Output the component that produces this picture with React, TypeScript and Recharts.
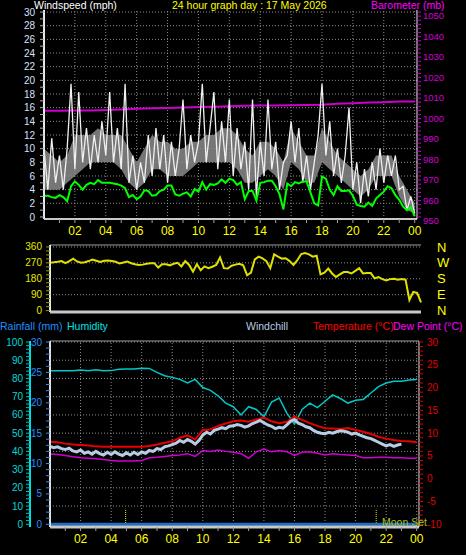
import { ComposedChart, LineChart, Line, Area, XAxis, YAxis, ReferenceLine } from 'recharts';

// time grid, 15 minute steps over the day
const HOURS = Array.from({ length: 97 }, (_, i) => i / 4);

// wind speed (mph), 15 min
const GUST = [10, 4, 11.5, 5, 9, 4, 10, 19.5, 7, 18.3, 8, 13, 7, 12, 8, 14, 9, 18.3, 8, 13, 7, 19.5, 5, 9, 4, 8, 5, 12, 6, 13, 7, 12, 5, 11, 6, 10, 17.2, 7, 12, 8, 11, 19.5, 8, 13, 18.3, 7, 14, 8, 17.2, 6, 13, 7, 11, 4, 17.2, 3, 11, 6, 17.2, 7, 11, 4, 8, 9, 14, 8, 13, 5, 9, 4, 8, 12, 19.5, 9, 14, 6, 10, 5, 9, 16, 4, 8, 2, 7, 3, 8, 4, 10, 5, 9, 6, 9, 4, 4.5, 1, 3, 0.5];
const AVG = [3.1, 3.1, 2.9, 2.8, 3.2, 2.9, 2.3, 4.5, 5.2, 4.7, 4.0, 4.7, 5.0, 4.8, 5.4, 5.0, 5.0, 5.0, 4.9, 4.8, 4.6, 4.2, 2.9, 3.2, 2.6, 3.0, 3.9, 3.8, 3.1, 3.2, 3.8, 4.0, 4.6, 4.6, 3.3, 3.1, 3.4, 3.6, 3.0, 4.1, 3.7, 5.1, 4.0, 4.8, 4.7, 4.9, 5.5, 5.0, 5.6, 5.4, 4.7, 5.1, 2.6, 3.8, 3.8, 2.4, 5.0, 5.1, 5.3, 5.3, 4.5, 3.3, 1.1, 4.9, 4.5, 5.1, 4.9, 5.2, 5.2, 3.6, 2.0, 1.7, 5.9, 5.6, 4.0, 3.2, 4.5, 3.8, 3.8, 3.9, 3.1, 1.8, 1.6, 1.5, 2.1, 1.6, 2.7, 3.2, 3.7, 4.5, 4.2, 3.2, 2.5, 1.5, 1.0, 1.4, 0.1];
// gust band, low and high (mph), 30 min
const GUST_LO = [4, 4, 4, 5, 6, 7, 8, 8, 8, 8, 7, 5, 4, 5, 7, 7, 6, 6, 6, 7, 8, 8, 8, 8, 8, 7, 5, 5, 6, 7, 6, 4, 8, 7, 5, 5, 8, 7, 6, 5, 4, 3, 4, 6, 6, 6, 3, 1, 0.5];
const GUST_HI = [10, 9, 8, 9, 12, 12, 12, 13, 12, 12, 12, 10, 8, 10, 12, 11, 11, 10, 10, 11, 11, 12, 12, 13, 13, 12, 10, 9, 11, 11, 10, 8, 13, 11, 9, 9, 13, 11, 9, 8, 7, 6, 7, 9, 9, 9, 6, 4, 2];
// barometer (mb), hourly
const BARO = [1001.8, 1001.8, 1001.9, 1001.9, 1002.2, 1002.5, 1002.8, 1003.0, 1003.2, 1003.4, 1003.6, 1003.8, 1004.0, 1004.3, 1004.4, 1004.4, 1004.5, 1004.6, 1004.8, 1005.2, 1005.5, 1005.8, 1006.0, 1006.3, 1006.4];
// wind direction (degrees), 15 min
const DIR = [271, 273, 276, 280, 268, 280, 294, 278, 271, 274, 280, 288, 282, 275, 282, 283, 280, 276, 266, 272, 278, 268, 262, 258, 260, 265, 268, 268, 243, 262, 262, 256, 265, 270, 250, 280, 258, 220, 262, 228, 250, 240, 248, 258, 300, 240, 238, 254, 260, 265, 256, 200, 215, 290, 305, 295, 280, 240, 318, 305, 294, 296, 280, 258, 285, 320, 326, 318, 305, 310, 205, 215, 238, 210, 190, 205, 218, 218, 210, 225, 240, 210, 212, 212, 182, 190, 178, 170, 178, 180, 175, 178, 175, 60, 105, 100, 47];
// humidity (%), temperature and dew point (C), 30 min
const HUM = [84.2, 84.2, 84.2, 84.2, 84.6, 84.2, 84.8, 84.2, 84.3, 85.0, 85.2, 85.2, 85.6, 85.5, 83.3, 81.5, 80.6, 79.5, 77.5, 79.5, 75.0, 73.5, 70.5, 66.5, 64.5, 60.0, 64.5, 63.0, 59.0, 67.0, 69.3, 61.0, 55.0, 63.0, 66.5, 64.0, 67.5, 71.0, 69.0, 66.5, 68.0, 68.5, 72.0, 75.5, 77.5, 78.5, 78.5, 79.2, 79.4];
const TEMP = [8.1, 8.0, 7.7, 7.5, 7.4, 7.3, 7.1, 7.0, 7.0, 7.0, 7.0, 7.0, 7.0, 7.2, 7.5, 7.9, 8.2, 9.0, 9.5, 8.6, 10.7, 10.8, 11.6, 12.1, 12.6, 12.8, 12.5, 13.0, 13.4, 12.6, 12.2, 12.5, 13.6, 12.9, 12.2, 11.6, 11.1, 11.0, 10.9, 11.1, 10.7, 10.3, 9.8, 9.2, 8.8, 8.5, 8.3, 8.2, 8.0];
const DEW = [5.4, 5.3, 5.1, 4.8, 4.6, 4.5, 4.4, 4.2, 4.0, 3.9, 3.9, 3.9, 4.0, 4.6, 4.7, 4.9, 5.1, 5.2, 5.5, 4.9, 6.2, 6.0, 6.3, 6.0, 5.8, 5.5, 4.5, 5.9, 6.5, 5.9, 6.2, 5.9, 5.1, 5.8, 5.9, 5.6, 5.2, 5.5, 5.3, 5.2, 5.1, 4.6, 4.6, 4.7, 4.7, 4.6, 4.6, 4.5, 4.5];
// windchill (C), 15 min, ends at 23:00
const CHILL = [7.1, 6.8, 7.0, 6.6, 6.4, 6.7, 6.1, 5.9, 6.3, 5.6, 5.9, 5.4, 6.0, 5.5, 5.2, 5.8, 5.3, 5.9, 5.4, 5.1, 5.7, 5.2, 5.8, 5.3, 5.9, 5.6, 6.2, 6.0, 6.6, 6.4, 7.0, 7.2, 7.5, 7.8, 8.4, 8.0, 8.6, 8.2, 7.6, 8.4, 9.6, 10.2, 9.8, 10.6, 10.9, 11.2, 11.0, 11.5, 11.6, 11.9, 11.7, 11.3, 11.6, 12.1, 12.4, 12.8, 12.3, 11.8, 11.5, 11.0, 11.3, 11.1, 11.8, 12.6, 13.0, 12.2, 11.9, 11.4, 11.2, 10.6, 10.2, 10.0, 9.9, 10.2, 10.0, 10.3, 10.5, 10.4, 10.2, 9.8, 10.0, 9.6, 9.3, 9.0, 8.8, 8.4, 8.0, 7.6, 7.2, 7.5, 7.1, 7.4, 7.6];
// rainfall (mm), hourly
const RAIN = [0, 0, 0, 0, 0, 0, 0, 0, 0, 0, 0, 0, 0, 0, 0, 0, 0, 0, 0, 0, 0, 0, 0, 0, 0];

// sunrise / moon set markers (hours)
const MARKS = [4.95, 21.35];

// ticks and grid
const HOUR_TICKS = Array.from({ length: 24 }, (_, i) => i + 1);
const GRID_HOURS = [2, 4, 6, 8, 10, 12, 14, 16, 18, 20, 22, 24];
const SPEED_TICKS = Array.from({ length: 31 }, (_, i) => i);
const SPEED_GRID = [2, 4, 6, 8, 10, 12, 14, 16, 18, 20, 22, 24, 26, 28, 30];
const BARO_TICKS = Array.from({ length: 51 }, (_, i) => 950 + i * 2);
const DIR_TICKS = Array.from({ length: 17 }, (_, i) => i * 22.5);
const DIR_GRID = [90, 180, 270, 360];
const DIR_LETTERS = ['N', 'E', 'S', 'W', 'N'];
const HUM_TICKS = Array.from({ length: 51 }, (_, i) => i * 2);
const HUM_GRID = [10, 20, 30, 40, 50, 60, 70, 80, 90, 100];
const RAIN_TICKS = Array.from({ length: 31 }, (_, i) => i);
const TEMP_TICKS = Array.from({ length: 41 }, (_, i) => i - 10);

const FONT = "'Liberation Sans', Arial, sans-serif";
const GRID = { stroke: '#8c8c8c', strokeDasharray: '1 2' };

const windRows = HOURS.map((h, i) => ({
  h,
  gust: GUST[i],
  avg: AVG[i],
  band: i % 2 === 0 ? [GUST_LO[i / 2], GUST_HI[i / 2]] : null,
  baro: i % 4 === 0 ? BARO[i / 4] : null,
}));
const dirRows = HOURS.map((h, i) => ({ h, dir: DIR[i] }));
const tempRows = HOURS.map((h, i) => ({
  h,
  hum: i % 2 === 0 ? HUM[i / 2] : null,
  temp: i % 2 === 0 ? TEMP[i / 2] : null,
  dew: i % 2 === 0 ? DEW[i / 2] : null,
  chill: CHILL[i] ?? null,
  rain: i % 4 === 0 ? RAIN[i / 4] : null,
}));

const hourLabel = (h: number) => (h % 2 === 0 ? String(h % 24).padStart(2, '0') : '');

function Label({ x, y, color, children }: { x: number; y: number; color: string; children: string }) {
  return (
    <div style={{ position: 'absolute', left: x, top: y, color, fontSize: 10.5, lineHeight: '10px', whiteSpace: 'nowrap' }}>
      {children}
    </div>
  );
}

export default function App() {
  return (
    <div style={{ position: 'absolute', left: 0, top: 0, width: 466, height: 555, background: '#000', fontFamily: FONT, overflow: 'hidden' }}>
      {/* wind speed + barometer */}
      <ComposedChart width={466} height={250} data={windRows} margin={{ top: 10, right: 3, bottom: 6, left: 10 }}
        style={{ position: 'absolute', left: 0, top: 0 }}>
        <XAxis dataKey="h" type="number" domain={[0, 24.15]} allowDataOverflow ticks={HOUR_TICKS} interval={0}
          tickFormatter={hourLabel} height={25} tickSize={4} tickMargin={3}
          tick={{ fill: '#ffff00', fontSize: 12, fontFamily: FONT }} tickLine={{ stroke: '#a0a0a0' }}
          axisLine={{ stroke: '#c8c8c8', strokeWidth: 2 }} />
        <YAxis yAxisId="w" domain={[-0.3, 30.3]} allowDataOverflow ticks={SPEED_TICKS} interval={0} width={34}
          tickFormatter={(v: number) => (v % 2 === 0 ? String(v) : '')} tickSize={4} tickMargin={5}
          tick={{ fill: '#d8e2ff', fontSize: 10, fontFamily: FONT }} tickLine={{ stroke: '#b0b0b0' }}
          axisLine={{ stroke: '#e8e8e8', strokeWidth: 2 }} />
        <YAxis yAxisId="b" orientation="right" domain={[949, 1051]} allowDataOverflow ticks={BARO_TICKS} interval={0} width={46}
          tickFormatter={(v: number) => (v % 10 === 0 ? String(v) : '')} tickSize={4} tickMargin={2}
          tick={{ fill: '#d000d0', fontSize: 9.5, fontFamily: FONT, dy: 4 }} tickLine={{ stroke: '#c000c0' }}
          axisLine={{ stroke: '#e8e8e8', strokeWidth: 1 }} />
        {GRID_HOURS.map((h) => (
          <ReferenceLine key={'x' + h} yAxisId="w" x={h} {...GRID} />
        ))}
        {SPEED_GRID.map((v) => (
          <ReferenceLine key={'y' + v} yAxisId="w" y={v} {...GRID} />
        ))}
        <Line yAxisId="b" dataKey="baro" stroke="#cc00cc" strokeWidth={2} dot={false} connectNulls isAnimationActive={false} />
        <Area yAxisId="w" dataKey="band" stroke="none" fill="#c4c4c4" fillOpacity={0.6} connectNulls isAnimationActive={false} />
        <Line yAxisId="w" dataKey="gust" stroke="#f0f0f0" strokeWidth={1.3} dot={false} isAnimationActive={false} />
        <Line yAxisId="w" dataKey="avg" stroke="#00ff00" strokeWidth={2} dot={false} isAnimationActive={false} />
      </ComposedChart>

      <Label x={34} y={0} color="#ffffff">Windspeed (mph)</Label>
      <Label x={172} y={0} color="#ffff00">24 hour graph day : 17 May 2026</Label>
      <Label x={371} y={0} color="#ff00ff">Barometer (mb)</Label>

      {/* wind direction */}
      <LineChart width={466} height={80} data={dirRows} margin={{ top: 5, right: 5, bottom: 8, left: 10 }}
        style={{ position: 'absolute', left: 0, top: 240 }}>
        <XAxis dataKey="h" type="number" domain={[0, 24]} hide />
        <YAxis yAxisId="d" domain={[-8, 371]} allowDataOverflow ticks={DIR_TICKS} interval={0} width={40}
          tickFormatter={(v: number) => (v % 90 === 0 ? String(v) : '')} tickSize={4} tickMargin={4}
          tick={{ fill: '#e8e800', fontSize: 10, fontFamily: FONT }} tickLine={{ stroke: '#9a9a00' }}
          axisLine={{ stroke: '#e8e8e8', strokeWidth: 2 }} />
        <YAxis yAxisId="n" orientation="right" domain={[-8, 371]} allowDataOverflow ticks={DIR_GRID.concat([0])} interval={0} width={40}
          tickFormatter={(v: number) => DIR_LETTERS[v / 90]} tickSize={0} tickMargin={16} tickLine={false} axisLine={false}
          tick={{ fill: '#ffff00', fontSize: 13, fontFamily: FONT }} />
        {DIR_GRID.map((v) => (
          <ReferenceLine key={v} yAxisId="d" y={v} {...GRID} />
        ))}
        <ReferenceLine yAxisId="d" y={371} stroke="#a0a0a0" />
        <ReferenceLine yAxisId="d" y={-8} stroke="#c8c8c8" strokeWidth={3} />
        <Line yAxisId="d" dataKey="dir" stroke="#e0e000" strokeWidth={2} dot={false} isAnimationActive={false} />
      </LineChart>

      <Label x={0} y={321} color="#1e90ff">Rainfall (mm)</Label>
      <Label x={67} y={321} color="#00e0e0">Humidity</Label>
      <Label x={246} y={321} color="#b8cce4">Windchill</Label>
      <Label x={313} y={321} color="#ff0000">Temperature (°C)</Label>
      <Label x={393} y={321} color="#ff00ff">Dew Point (°C)</Label>

      {/* rain, humidity, temperature */}
      <LineChart width={466} height={225} data={tempRows} margin={{ top: 11, right: 5, bottom: 4, left: 0 }}
        style={{ position: 'absolute', left: 0, top: 330 }}>
        <XAxis dataKey="h" type="number" domain={[0, 24.15]} allowDataOverflow ticks={HOUR_TICKS} interval={0}
          tickFormatter={hourLabel} height={24} tickSize={4} tickMargin={3}
          tick={{ fill: '#ffff00', fontSize: 12, fontFamily: FONT }} tickLine={{ stroke: '#a0a0a0' }}
          axisLine={{ stroke: '#c8c8c8', strokeWidth: 3 }} />
        <YAxis yAxisId="a-rain" domain={[-0.444, 30.165]} allowDataOverflow ticks={RAIN_TICKS} interval={0} width={20}
          tickFormatter={(v: number) => (v % 5 === 0 ? String(v) : '')} tickSize={4} tickMargin={4}
          tick={{ fill: '#1e90ff', fontSize: 10, fontFamily: FONT }} tickLine={{ stroke: '#3a8ee6' }}
          axisLine={{ stroke: '#e0e0e0', strokeWidth: 2 }} />
        <YAxis yAxisId="b-hum" domain={[-1.48, 100.55]} allowDataOverflow ticks={HUM_TICKS} interval={0} width={30}
          tickFormatter={(v: number) => (v % 10 === 0 ? String(v) : '')} tickSize={4} tickMargin={3}
          tick={{ fill: '#00d8d8', fontSize: 10, fontFamily: FONT }} tickLine={{ stroke: '#00c0c0' }}
          axisLine={{ stroke: '#00e0e0', strokeWidth: 2 }} />
        <YAxis yAxisId="t" orientation="right" domain={[-10.592, 30.22]} allowDataOverflow ticks={TEMP_TICKS} interval={0} width={42}
          tickFormatter={(v: number) => (v % 5 === 0 ? String(v) : '')} tickSize={4} tickMargin={4}
          tick={{ fill: '#e00000', fontSize: 10, fontFamily: FONT }} tickLine={{ stroke: '#d00000' }}
          axisLine={{ stroke: '#e8e8e8', strokeWidth: 1 }} />
        {GRID_HOURS.map((h) => (
          <ReferenceLine key={'x' + h} yAxisId="b-hum" x={h} {...GRID} />
        ))}
        {HUM_GRID.map((v) => (
          <ReferenceLine key={'y' + v} yAxisId="b-hum" y={v} {...GRID} />
        ))}
        <ReferenceLine yAxisId="b-hum" y={100.55} stroke="#a0a0a0" />
        {MARKS.map((h) => (
          <ReferenceLine key={'m' + h} yAxisId="b-hum" segment={[{ x: h, y: -1.48 }, { x: h, y: 8.5 }]}
            stroke="#e8e800" strokeDasharray="1 1" />
        ))}
        <Line yAxisId="a-rain" dataKey="rain" stroke="#1e6ec8" strokeWidth={3} dot={false} connectNulls isAnimationActive={false} />
        <Line yAxisId="b-hum" dataKey="hum" stroke="#00c8c8" strokeWidth={1.5} dot={false} connectNulls isAnimationActive={false} />
        <Line yAxisId="t" dataKey="dew" stroke="#d000d0" strokeWidth={1.5} dot={false} connectNulls isAnimationActive={false} />
        <Line yAxisId="t" dataKey="temp" stroke="#e80000" strokeWidth={2} dot={false} connectNulls isAnimationActive={false} />
        <Line yAxisId="t" dataKey="chill" stroke="#b8cce4" strokeWidth={3} dot={false} isAnimationActive={false} />
      </LineChart>

      <Label x={382} y={517} color="#a8c020">Moon Set</Label>
    </div>
  );
}
